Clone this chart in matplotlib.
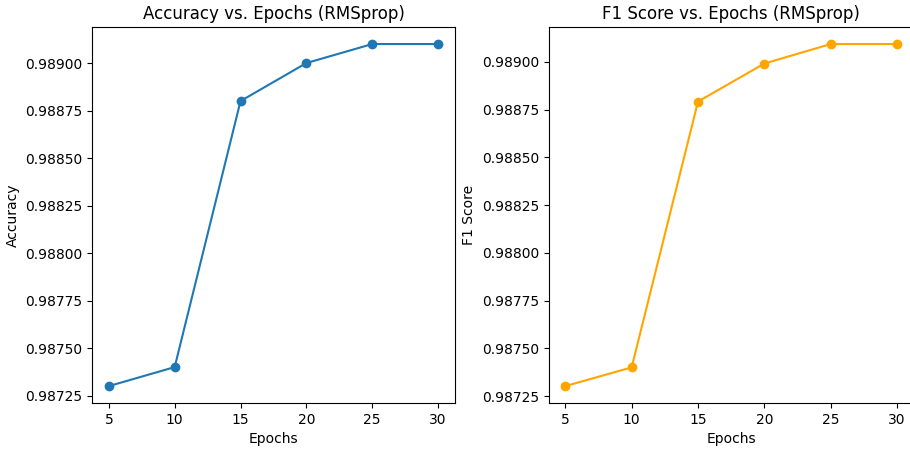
import matplotlib
matplotlib.use("Agg")
import matplotlib.pyplot as plt

epochs = [5, 10, 15, 20, 25, 30]
accuracy = [0.98730, 0.98740, 0.98880, 0.98900, 0.98910, 0.98910]
f1_score = [0.987303, 0.987401, 0.988792, 0.988991, 0.989093, 0.989093]

fig = plt.figure(figsize=(9.1, 4.49), dpi=100)
ax1 = fig.add_axes([0.1015, 0.102, 0.398, 0.838])
ax2 = fig.add_axes([0.603, 0.102, 0.401, 0.838])

ax1.plot(epochs, accuracy, marker='o')
ax1.set_title('Accuracy vs. Epochs (RMSprop)')
ax1.set_xlabel('Epochs')
ax1.set_ylabel('Accuracy')

ax2.plot(epochs, f1_score, marker='o', color='orange')
ax2.set_title('F1 Score vs. Epochs (RMSprop)')
ax2.set_xlabel('Epochs')
ax2.set_ylabel('F1 Score')

fig.savefig('out.png', dpi=100)
